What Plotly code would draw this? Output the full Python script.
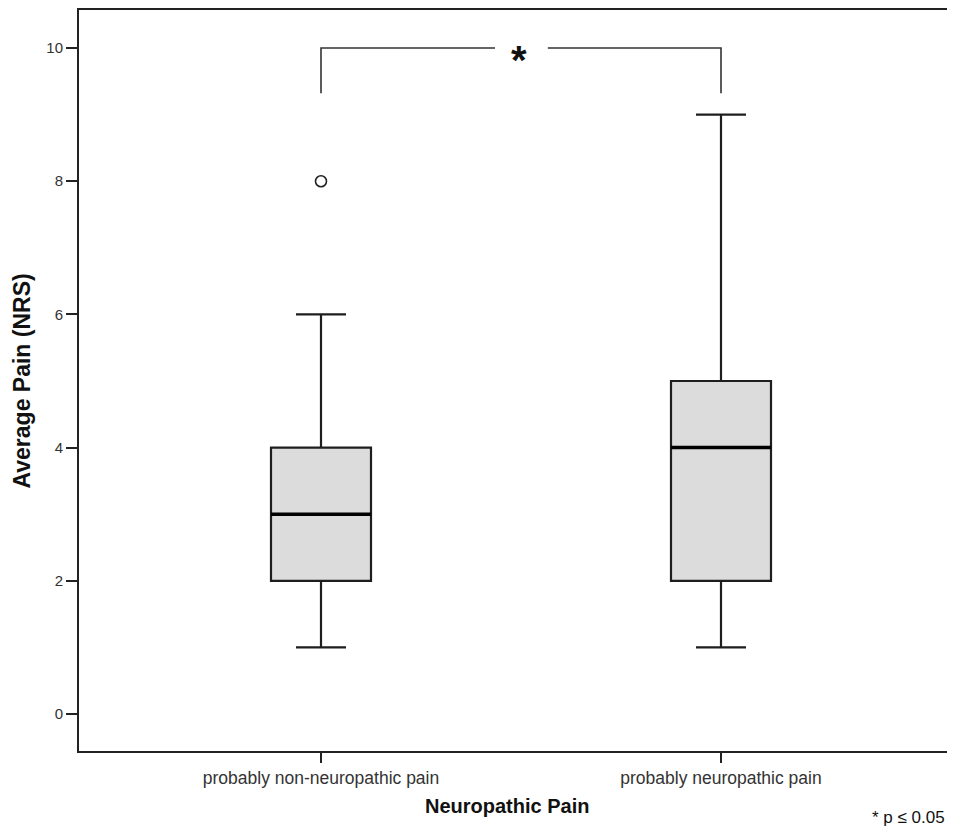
import plotly.graph_objects as go

categories = ["probably non-neuropathic pain", "probably neuropathic pain"]
positions = [0, 1]
lower = [1, 1]
q1 = [2, 2]
median = [3, 4]
q3 = [4, 5]
upper = [6, 9]
outlier_pos = [0]
outlier_val = [8]
bracket_y = 10
bracket_leg = 9.32
y_ticks = [0, 2, 4, 6, 8, 10]

box_w = 0.25
FONT = "Liberation Sans"

fig = go.Figure()

fig.add_trace(go.Box(
    x=positions, q1=q1, median=median, q3=q3,
    lowerfence=lower, upperfence=upper,
    width=box_w, whiskerwidth=0.5,
    fillcolor="#dcdcdc", line=dict(color="#1e1e1e", width=2.2),
    boxpoints=False, showlegend=False, hoverinfo="skip"))

# thicker median lines
mx, my = [], []
for p, m in zip(positions, median):
    mx += [p - box_w / 2, p + box_w / 2, None]
    my += [m, m, None]
fig.add_trace(go.Scatter(x=mx, y=my, mode="lines",
                         line=dict(color="#000", width=3.5),
                         showlegend=False, hoverinfo="skip"))

# outlier
fig.add_trace(go.Scatter(x=outlier_pos, y=outlier_val, mode="markers",
                         marker=dict(symbol="circle", size=11, color="white",
                                     line=dict(color="#222", width=1.6)),
                         showlegend=False, hoverinfo="skip"))

# significance bracket
gap_l, gap_r = 0.435, 0.567
fig.add_trace(go.Scatter(
    x=[positions[0], positions[0], gap_l, None, gap_r, positions[1], positions[1]],
    y=[bracket_leg, bracket_y, bracket_y, None, bracket_y, bracket_y, bracket_leg],
    mode="lines", line=dict(color="#333", width=1.6),
    showlegend=False, hoverinfo="skip"))

fig.add_annotation(x=0.495, y=bracket_y, xref="x", yref="y", text="<b>*</b>",
                   showarrow=False, font=dict(size=40, color="#111", family=FONT),
                   yanchor="middle", yshift=-12)

# axis titles and footnote
fig.add_annotation(x=-0.0657, y=0.5, xref="paper", yref="paper",
                   text="<b>Average Pain (NRS)</b>", textangle=-90, showarrow=False,
                   xanchor="center", yanchor="middle",
                   font=dict(size=23, color="#111", family=FONT))
fig.add_annotation(x=0.4931, y=-0.0742, xref="paper", yref="paper",
                   text="<b>Neuropathic Pain</b>", showarrow=False,
                   xanchor="center", yanchor="middle",
                   font=dict(size=20, color="#111", family=FONT))
fig.add_annotation(x=1, y=-0.0904, xref="paper", yref="paper", text="* p \u2264 0.05",
                   showarrow=False, xanchor="right", yanchor="middle",
                   font=dict(size=17, color="#111", family=FONT))

fig.update_layout(
    width=939, height=820,
    margin=dict(l=71, r=0, t=2, b=77),
    plot_bgcolor="white", paper_bgcolor="white",
    font=dict(family=FONT, color="#222"),
    xaxis=dict(range=[-0.605, 1.565], tickmode="array", tickvals=positions,
               ticktext=categories, showgrid=False, zeroline=False,
               showline=True, linecolor="#222", linewidth=2, mirror=True,
               ticks="outside", ticklen=10, tickwidth=2, tickcolor="#222",
               tickfont=dict(size=17.5, color="#333")),
    yaxis=dict(range=[-0.556, 10.571], tickmode="array", tickvals=y_ticks,
               showgrid=False, zeroline=False,
               showline=True, linecolor="#222", linewidth=2,
               ticks="outside", ticklen=11, tickwidth=2, tickcolor="#222",
               tickfont=dict(size=15, color="#333")),
)

fig.write_html("out.html")
